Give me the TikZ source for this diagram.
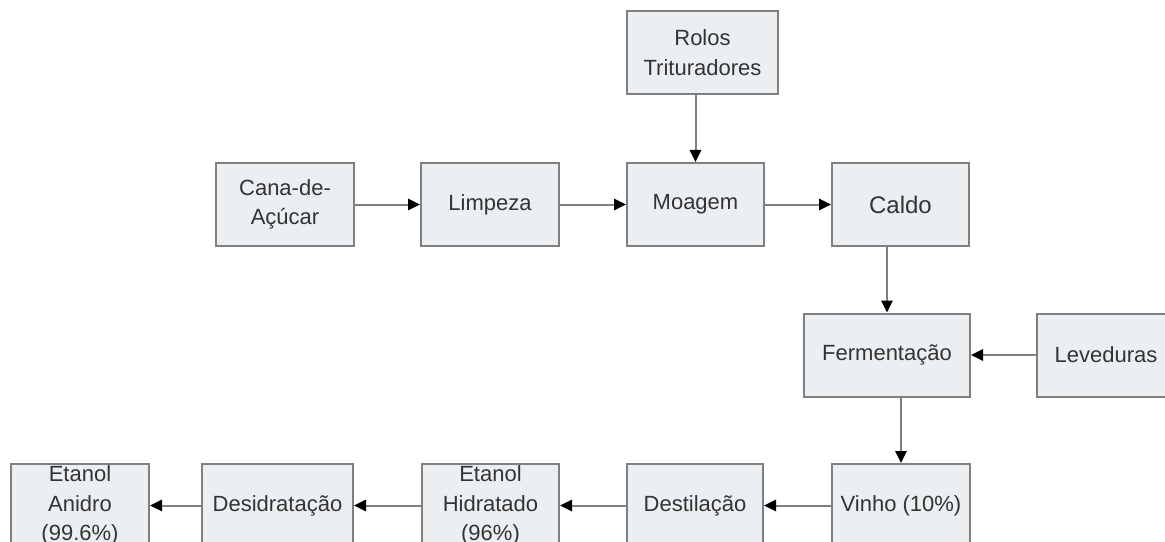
\documentclass[tikz,border=0pt]{standalone}
\usepackage{fontspec}
\setmainfont{Liberation Sans}
\usetikzlibrary{arrows.meta}
\definecolor{boxfill}{HTML}{ECEFF1}
\definecolor{boxline}{HTML}{808080}
\definecolor{txt}{HTML}{333333}
\tikzset{
  box/.style={draw=boxline, fill=boxfill, line width=1.5pt, text=txt,
    font=\fontsize{16.5}{22}\selectfont, align=center, inner sep=0pt,
    minimum height=62.25pt},
  flow/.style={draw=boxline, line width=1.5pt,
    -{Triangle[color=black,length=9pt,width=8.5pt]}}
}
\begin{document}
\begin{tikzpicture}[x=0.75pt,y=-0.75pt]
\useasboundingbox (0,0) rectangle (1165,542);
\clip (0,0) rectangle (1165,542);
\fill[white] (0,0) rectangle (1165,542);
% top row
\node[box, minimum width=113.25pt] (rolos) at (702.5,52.5) {Rolos\\Trituradores};
\node[box, minimum width=103.5pt] (cana) at (285,204.5) {Cana-de-\\Açúcar};
\node[box, minimum width=103.5pt] (limpeza) at (490,204.5) {Limpeza};
\node[box, minimum width=102.75pt] (moagem) at (695.5,204.5) {Moagem};
\node[box, minimum width=102.75pt, font=\fontsize{18}{22}\selectfont] (caldo) at (900.5,204.5) {Caldo};
% middle row
\node[box, minimum width=124.5pt] (ferm) at (887,355) {Fermentação};
\node[box, minimum width=103.5pt] (lev) at (1106,355) {Leveduras};
% bottom row
\node[box, minimum width=103.5pt] (vinho) at (901,505.5) {Vinho (10\%)};
\node[box, minimum width=102pt] (dest) at (695,505.5) {Destilação};
\node[box, minimum width=102.75pt] (hidr) at (490.5,505.5) {Etanol\\Hidratado\\(96\%)};
\node[box, minimum width=113.25pt] (desid) at (277.5,505.5) {Desidratação};
\node[box, minimum width=103.5pt] (anidro) at (80,505.5) {Etanol\\Anidro\\(99.6\%)};
% connectors
\draw[flow] (cana) -- (limpeza);
\draw[flow] (limpeza) -- (moagem);
\draw[flow] (moagem) -- (caldo);
\draw[flow] (rolos.south -| moagem.north) -- (moagem.north);
\draw[flow] (caldo.south -| ferm.north) -- (ferm.north);
\draw[flow] (lev) -- (ferm);
\draw[flow] (ferm.south -| vinho.north) -- (vinho.north);
\draw[flow] (vinho) -- (dest);
\draw[flow] (dest) -- (hidr);
\draw[flow] (hidr) -- (desid);
\draw[flow] (desid) -- (anidro);
\end{tikzpicture}
\end{document}
